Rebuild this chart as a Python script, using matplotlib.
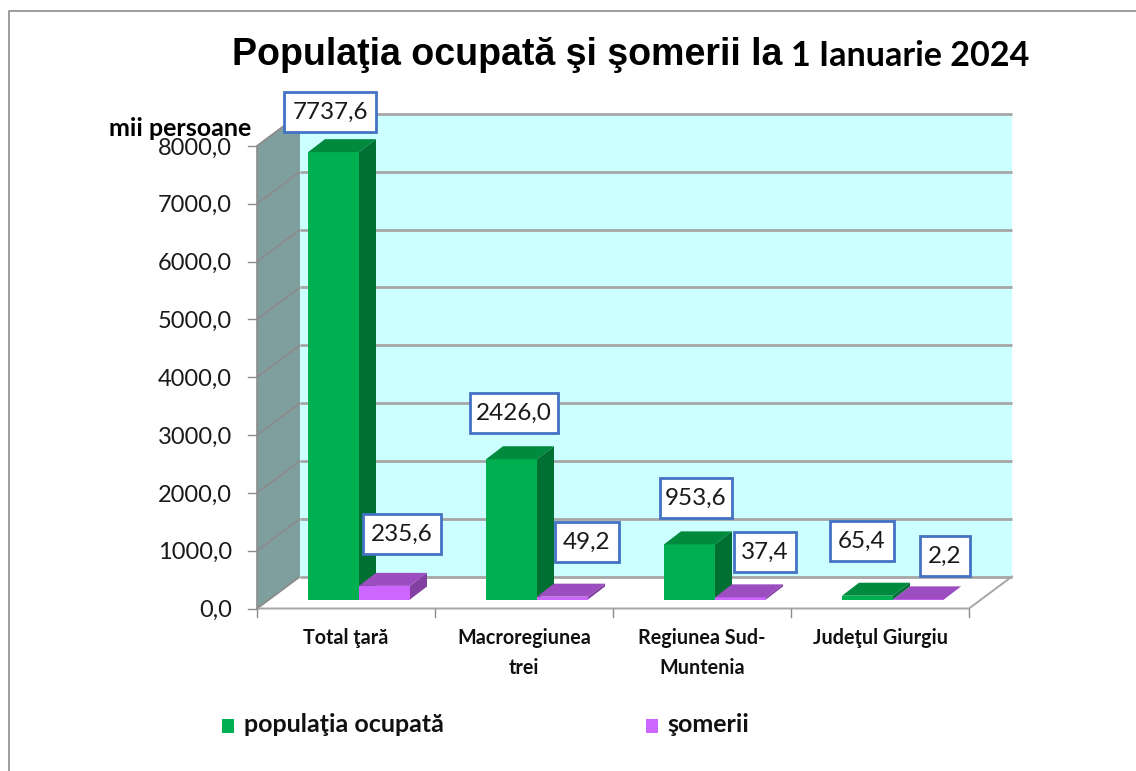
import matplotlib
matplotlib.use("Agg")
import matplotlib.pyplot as plt
import matplotlib.transforms as mtrans
from matplotlib.patches import Polygon, Rectangle

W, H = 1136, 771

categories = ["Total ţară", "Macroregiunea\ntrei", "Regiunea Sud-\nMuntenia", "Judeţul Giurgiu"]
ocupata = [7737.6, 2426.0, 953.6, 65.4]
someri = [235.6, 49.2, 37.4, 2.2]
ocupata_txt = ["7737,6", "2426,0", "953,6", "65,4"]
someri_txt = ["235,6", "49,2", "37,4", "2,2"]
yticks = [0, 1000, 2000, 3000, 4000, 5000, 6000, 7000, 8000]

GREEN = ("#00B050", "#008A3E", "#006F32")
PURPLE = ("#CC66FF", "#9C4DBF", "#8240A3")
BLUE = "#4472C4"
GRID = "#A6A6A6"

# colturile zonei de desen, in pixeli
x0, x1, y0, y1 = 257, 969, 608.5, 146
dep_x, dep_y = 43, 32  # adancimea peretelui
fig = plt.figure(figsize=(W / 100, H / 100), dpi=100)
ax = fig.add_axes([x0 / W, 1 - y0 / H, (x1 - x0) / W, (y0 - y1) / H])
ax.set_xlim(0, 4)
ax.set_ylim(0, 8000)
ax.axis("off")

ux = (x1 - x0) / 4  # pixeli pe categorie
uy = (y0 - y1) / 8000  # pixeli pe unitate
DX = dep_x / ux
DY = dep_y / uy

# pozitii in pixeli pentru texte si cadru
px = mtrans.Affine2D().scale(1 / W, -1 / H).translate(0, 1) + fig.transFigure


def poly(pts, fc, ec="none", lw=0, z=1):
    ax.add_patch(Polygon(pts, closed=True, fc=fc, ec=ec, lw=lw, zorder=z, clip_on=False))


# pereti si podea
poly([(DX, DY), (4 + DX, DY), (4 + DX, 8000 + DY), (DX, 8000 + DY)], "#CCFFFF", z=1)
poly([(0, 0), (DX, DY), (DX, 8000 + DY), (0, 8000)], "#7F9F9F", z=1)
poly([(0, 0), (4, 0), (4 + DX, DY), (DX, DY)], "white", z=1)

for v in yticks:
    ax.plot([0, DX], [v, v + DY], color="#8C8C8C", lw=1.4, zorder=2, clip_on=False, solid_capstyle="butt")
    ax.plot([DX, 4 + DX], [v + DY, v + DY], color=GRID, lw=2, zorder=2, clip_on=False, solid_capstyle="butt")
    ax.plot([-9 / ux, 0], [v, v], color="#8C8C8C", lw=1, zorder=2, clip_on=False)
    ax.text(-25 / ux, v - 2 / uy, f"{v:.1f}".replace(".", ","), ha="right", va="center", fontsize=17,
            family="Lato", color="#1a1a1a", zorder=5)
ax.plot([0, 0], [0, 8000], color="#8C8C8C", lw=1.2, zorder=3, clip_on=False)
ax.plot([0, 4, 4 + DX], [0, 0, DY], color="#A6A6A6", lw=1.4, zorder=2, clip_on=False)

for i in range(5):
    ax.plot([i, i], [0, -8 / uy], color="#8C8C8C", lw=1, zorder=2, clip_on=False)
for i, c in enumerate(categories):
    ax.text(i + 0.5, -20 / uy, c, ha="center", va="top", fontsize=14.2, fontweight="bold", family="Lato",
            color="#111111", linespacing=1.6)


def bar3d(left, width, h, cols, z):
    base = 9 / uy
    bx, by = 17 / ux, 13 / uy  # adancimea barei
    poly([(left, base), (left + width, base), (left + width, base + h), (left, base + h)], cols[0], z=z)
    poly([(left, base + h), (left + width, base + h), (left + width + bx, base + h + by), (left + bx, base + h + by)],
         cols[1], z=z)
    poly([(left + width, base), (left + width + bx, base + by), (left + width + bx, base + h + by),
          (left + width, base + h)], cols[2], z=z)


bw = 51 / ux
off = 51 / ux
for i in range(4):
    bar3d(i + off, bw, ocupata[i], GREEN, 4)
    bar3d(i + off + bw, bw, someri[i], PURPLE, 4)

# etichete de valori (centru cutie in pixeli)
pos_oc = [(330, 112), (514, 413), (696, 498), (862, 541)]
pos_so = [(402, 534), (587, 542), (765, 552), (945, 556)]
pad_oc = [(46, 20), (44, 20), (36, 20), (32, 20)]
pad_so = [(39, 20), (32, 20), (31, 20), (25, 20)]
for txts, poss, pads in ((ocupata_txt, pos_oc, pad_oc), (someri_txt, pos_so, pad_so)):
    for t, (cx, cy), (hw, hh) in zip(txts, poss, pads):
        fig.add_artist(Rectangle((cx - hw, cy - hh), 2 * hw, 2 * hh, transform=px, fc="white", ec=BLUE, lw=2,
                                 zorder=6))
        fig.text(cx, cy, t, transform=px, ha="center", va="center", fontsize=17.5, family="Lato",
                 color="#1a1a1a", zorder=7)

fig.text(232, 55, "Populaţia ocupată şi şomerii la", transform=px, ha="left", va="center", fontsize=27,
         fontweight="bold", family="Liberation Sans", color="black")
fig.text(791, 56, "1 Ianuarie 2024", transform=px, ha="left", va="center", fontsize=24.6,
         fontweight="bold", family="Lato", color="black")
fig.text(109, 128, "mii persoane", transform=px, ha="left", va="center", fontsize=18, fontweight="bold",
         family="Lato", color="black")

# legenda
for x, col, lab, tx in ((222, GREEN[0], "populaţia ocupată", 244), (646, PURPLE[0], "şomerii", 667)):
    fig.add_artist(Rectangle((x, 719), 12, 14, transform=px, fc=col, ec="none"))
    fig.text(tx, 725, lab, transform=px, ha="left", va="center", fontsize=18, fontweight="bold", family="Lato",
             color="#111111")

# cadru
fig.add_artist(plt.Line2D([1136, 8.5, 8.5], [10.5, 10.5, 771], transform=px, color="#8C8C8C", lw=1.2))

fig.savefig("out.png", dpi=100)
